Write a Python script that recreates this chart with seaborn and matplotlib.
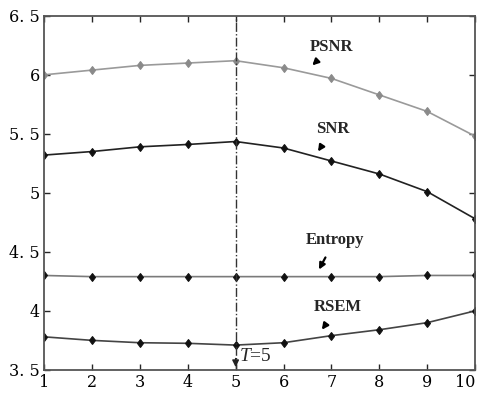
import numpy as np
import pandas as pd
import seaborn as sns
import matplotlib.pyplot as plt

sns.set_style("ticks")
plt.rcParams['font.family'] = ['DejaVu Serif']
plt.rcParams['mathtext.fontset'] = 'custom'
plt.rcParams['mathtext.it'] = 'Liberation Serif:italic'
plt.rcParams['mathtext.rm'] = 'Liberation Serif'

# data
T = [1, 2, 3, 4, 5, 6, 7, 8, 9, 10]
psnr = [6.00, 6.04, 6.08, 6.10, 6.12, 6.06, 5.97, 5.83, 5.69, 5.48]
snr = [5.32, 5.35, 5.39, 5.41, 5.435, 5.38, 5.27, 5.16, 5.01, 4.78]
entropy = [4.30, 4.29, 4.29, 4.29, 4.29, 4.29, 4.29, 4.29, 4.30, 4.30]
rsem = [3.78, 3.75, 3.73, 3.725, 3.71, 3.73, 3.79, 3.84, 3.90, 4.00]
yticks = [3.5, 4, 4.5, 5, 5.5, 6, 6.5]
ytick_labels = ["3. 5", "4", "4. 5", "5", "5. 5", "6", "6. 5"]

df = pd.DataFrame({"T": T, "PSNR": psnr, "SNR": snr, "Entropy": entropy, "RSEM": rsem})

fig = plt.figure(figsize=(4.78, 3.96), dpi=100)
ax = fig.add_axes([0.092, 0.066, 0.902, 0.894])

styles = {"PSNR": ("#9a9a9a", "#8a8a8a"),
          "SNR": ("#222222", "#111111"),
          "Entropy": ("#7a7a7a", "#111111"),
          "RSEM": ("#444444", "#111111")}
for name, (lc, mc) in styles.items():
    sns.lineplot(data=df, x="T", y=name, ax=ax, color=lc, lw=1.2,
                 marker="d", markersize=4.5, markerfacecolor=mc,
                 markeredgecolor=mc)

ax.axvline(5, color="#333333", lw=1, ls="-.")
ax.annotate("", xy=(5, 3.5), xytext=(5, 3.62),
            arrowprops=dict(arrowstyle="-|>", color="#222222", lw=1,
                            mutation_scale=10))
ax.text(5.07, 3.61, "$T$=5", fontsize=14, family="Liberation Serif",
        va="center", ha="left")

labels = [("PSNR", 7.01, 6.24, 6.6, 6.08),
          ("SNR", 7.03, 5.54, 6.72, 5.35),
          ("Entropy", 7.07, 4.60, 6.74, 4.35),
          ("RSEM", 7.14, 4.03, 6.8, 3.84)]
for txt, tx, ty, ax_, ay in labels:
    ax.annotate(txt, xy=(ax_, ay), xytext=(tx, ty), ha="center", va="center",
                fontsize=12, family="Liberation Serif", fontweight="bold",
                arrowprops=dict(arrowstyle="-|>", color="black", lw=1.6,
                                mutation_scale=9, shrinkA=5, shrinkB=0))

ax.set_xlim(1, 10)
ax.set_ylim(3.5, 6.5)
ax.set_xticks(T)
ax.set_yticks(yticks)
ax.set_yticklabels(ytick_labels)
ax.set_xlabel("")
ax.set_ylabel("")
ax.tick_params(direction="in", top=True, right=True, labelsize=11.5,
               length=4, width=1, pad=3, labelcolor="black")
# last x label sits against the right edge, nudge it inward a little
ax.get_xticklabels()[-1].set_horizontalalignment("right")
ax.get_xticklabels()[-1].set_x(10)
for s in ax.spines.values():
    s.set_color("#555555")
    s.set_linewidth(1.3)

fig.savefig("out.png", dpi=100)
